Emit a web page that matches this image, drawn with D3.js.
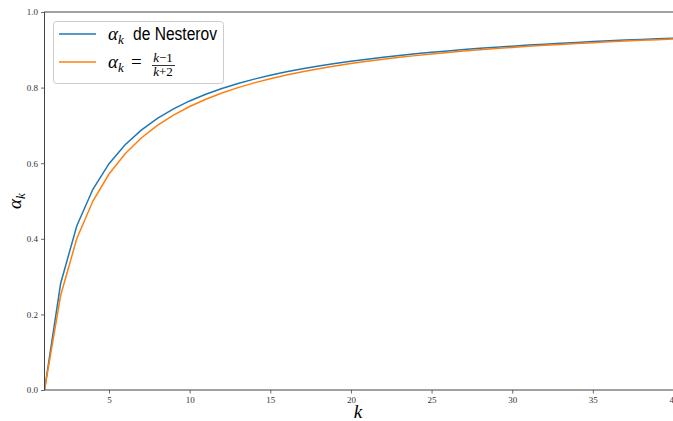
<!DOCTYPE html>
<html><head><meta charset="utf-8">
<script src="https://cdn.jsdelivr.net/npm/d3@7"></script>
<style>body{margin:0;background:#fff;overflow:hidden}</style>
</head><body>
<svg id="c" width="673" height="421"></svg>
<script>
const kValues = d3.range(1, 41);
const nesterov = [0,0.2817,0.4340,0.5311,0.5988,0.6489,0.6876,0.7185,0.7437,0.7647,
  0.7824,0.7976,0.8108,0.8224,0.8326,0.8417,0.8498,0.8571,0.8638,0.8698,
  0.8753,0.8804,0.8851,0.8894,0.8934,0.8971,0.9006,0.9038,0.9069,0.9097,
  0.9124,0.9149,0.9173,0.9195,0.9217,0.9237,0.9256,0.9274,0.9292,0.9308];
const ratio = [0,0.25,0.4,0.5,0.5714,0.625,0.6667,0.7,0.7273,0.75,
  0.7692,0.7857,0.8,0.8125,0.8235,0.8333,0.8421,0.85,0.8571,0.8636,
  0.8696,0.875,0.88,0.8846,0.8889,0.8929,0.8966,0.9,0.9032,0.9062,
  0.9091,0.9118,0.9143,0.9167,0.9189,0.9211,0.9231,0.925,0.9268,0.9286];
const xTicks = [5,10,15,20,25,30,35,40];
const yTicks = [0,0.2,0.4,0.6,0.8,1.0];
const colors = ["#1f77b4", "#ff7f0e"];

const svg = d3.select("#c");
const L = 44.5, R = 673.5, T = 12, B = 390;
const x = d3.scaleLinear().domain([1, 40]).range([L, R]);
const y = d3.scaleLinear().domain([0, 1]).range([B, T]);
const serif = "'Liberation Serif', 'DejaVu Serif', serif";

svg.append("defs").append("clipPath").attr("id","clip")
  .append("rect").attr("x",L).attr("y",T).attr("width",R-L).attr("height",B-T);

const line = d3.line().x((d,i)=>x(kValues[i])).y(d=>y(d));
const g = svg.append("g").attr("clip-path","url(#clip)");
[nesterov, ratio].forEach((s,i)=>{
  g.append("path").datum(s).attr("d",line).attr("fill","none")
   .attr("stroke",colors[i]).attr("stroke-width",1.5);
});

const xAxis = svg.append("g").attr("transform",`translate(0,${B})`)
  .call(d3.axisBottom(x).tickValues(xTicks).tickSize(3.5).tickPadding(3).tickFormat(d3.format("d")));
const yAxis = svg.append("g").attr("transform",`translate(${L},0)`)
  .call(d3.axisLeft(y).tickValues(yTicks).tickSize(3.5).tickPadding(3).tickFormat(d3.format(".1f")));
[xAxis,yAxis].forEach(a=>{
  a.select(".domain").remove();
  a.selectAll(".tick line").attr("stroke","#444").attr("stroke-width",0.8);
  a.selectAll(".tick text").attr("font-family",serif).attr("font-size",9).attr("fill","#333");
});
// spines
svg.append("rect").attr("x",L).attr("y",T).attr("width",R-L+2).attr("height",B-T)
  .attr("fill","none").attr("stroke","#444").attr("stroke-width",1);

// axis labels
svg.append("text").attr("x",358).attr("y",418).attr("text-anchor","middle")
  .attr("font-family",serif).attr("font-style","italic").attr("font-size",19).text("k");
const yl = svg.append("text").attr("transform","translate(21,201) rotate(-90)")
  .attr("text-anchor","middle").attr("font-family",serif).attr("font-size",19);
yl.append("tspan").attr("font-style","italic").text("α");
yl.append("tspan").attr("font-style","italic").attr("font-size",13).attr("dy",4).text("k");

// legend
const lg = svg.append("g");
lg.append("rect").attr("x",53.5).attr("y",21.5).attr("width",170).attr("height",62).attr("rx",3)
  .attr("fill","#fff").attr("fill-opacity",0.8).attr("stroke","#ccc").attr("stroke-width",1);
[34, 62].forEach((yy,i)=>{
  lg.append("line").attr("x1",59).attr("x2",96).attr("y1",yy).attr("y2",yy)
    .attr("stroke",colors[i]).attr("stroke-width",1.5);
});
const t1 = lg.append("text").attr("x",108).attr("y",40).attr("font-size",19).attr("font-family",serif);
t1.append("tspan").attr("font-style","italic").text("α");
t1.append("tspan").attr("font-style","italic").attr("font-size",13).attr("dy",4).text("k");
lg.append("text").attr("x",133).attr("y",40).attr("font-family","'Liberation Sans', sans-serif")
  .attr("font-size",18).attr("textLength",84).attr("lengthAdjust","spacingAndGlyphs").text("de Nesterov");
const t2 = lg.append("text").attr("x",108).attr("y",68).attr("font-size",19).attr("font-family",serif);
t2.append("tspan").attr("font-style","italic").text("α");
t2.append("tspan").attr("font-style","italic").attr("font-size",13).attr("dy",4).text("k");
lg.append("text").attr("x",131).attr("y",68).attr("font-size",19).attr("font-family",serif).text("=");
const fr = lg.append("g").attr("font-family",serif).attr("font-size",13).attr("text-anchor","middle");
const n = fr.append("text").attr("x",163).attr("y",62);
n.append("tspan").attr("font-style","italic").text("k");
n.append("tspan").text("−1");
fr.append("line").attr("x1",152).attr("x2",175).attr("y1",65.5).attr("y2",65.5).attr("stroke","#000").attr("stroke-width",0.8);
const dn = fr.append("text").attr("x",163).attr("y",76);
dn.append("tspan").attr("font-style","italic").text("k");
dn.append("tspan").text("+2");
</script>
</body></html>
